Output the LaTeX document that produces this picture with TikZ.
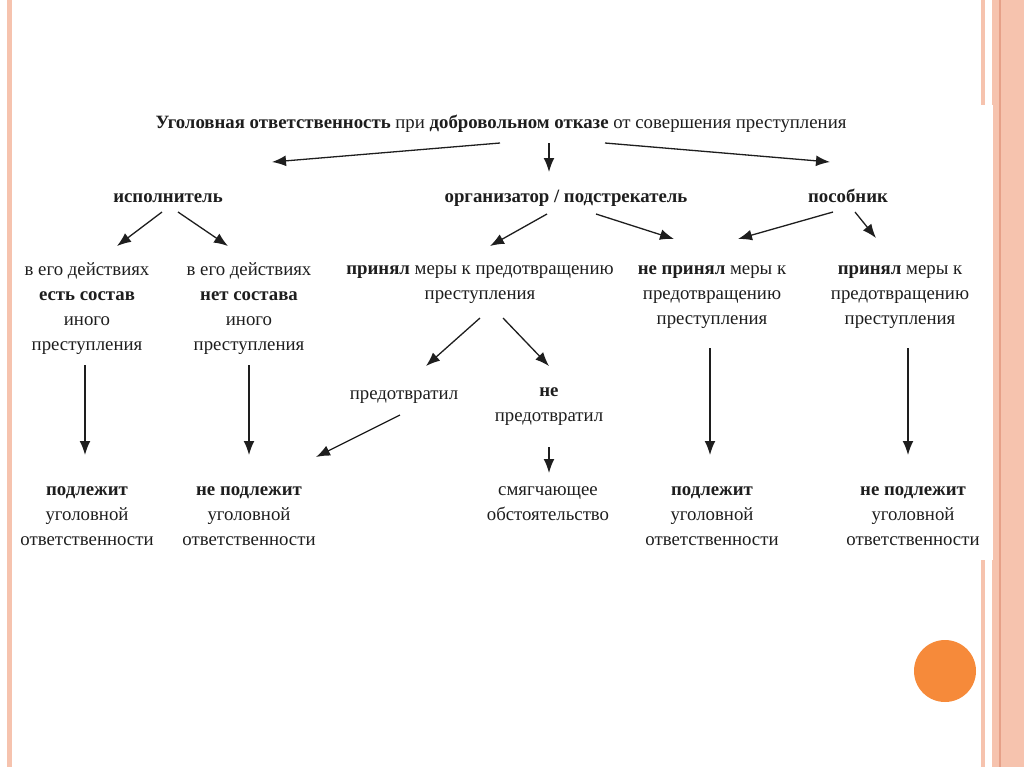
\documentclass[tikz,border=0pt]{standalone}
\usepackage{fontspec}
\setmainfont{Liberation Serif}
\usetikzlibrary{arrows.meta, calc}
\definecolor{slPink}{HTML}{F6C3AE}
\definecolor{slPinkDk}{HTML}{E6A088}
\definecolor{slOrange}{HTML}{F68A3A}
\definecolor{txtGrey}{HTML}{1E1E1E}
\tikzset{
  arr/.style  = {-{Latex[length=7pt,width=5.4pt]}, line width=0.65pt, txtGrey},
  lbl/.style  = {font=\fontsize{9.4}{12.5}\selectfont, text=txtGrey,
                 align=center, inner sep=0pt},
  oneline/.style = {text height=0.7em, text depth=0.22em},
  head/.style = {lbl, oneline, font=\bfseries\fontsize{9.4}{12.5}\selectfont},
}

\begin{document}
\begin{tikzpicture}[x=0.5pt, y=-0.5pt]
\useasboundingbox (0,0) rectangle (1024,767);

% ---- slide frame ----------------------------------------------------------
\fill[white] (0,0) rectangle (1024,767);
\fill[slPink] (7,0) rectangle (12,767);
\fill[slPink] (981,0) rectangle (985,767);
\fill[slPink] (992,0) rectangle (1024,767);
\draw[slPinkDk, line width=0.6pt] (1000,0) -- (1000,767);
\fill[white] (20,105) rectangle (993,560);
\fill[slOrange] (945,671) circle[radius=15.5pt];

% ---- top levels -----------------------------------------------------------
\node[lbl, oneline] (title) at (501,124)
  {\textbf{Уголовная ответственность} при \textbf{добровольном отказе} от совершения преступления};
\node[head] (isp) at (168,198) {исполнитель};
\node[head] (org) at (566,198) {организатор / подстрекатель};
\node[head] (pos) at (848,198) {пособник};

% ---- actions --------------------------------------------------------------
\node[lbl] (a1) at (87,309) {в его действиях\\\textbf{есть состав}\\иного\\преступления};
\node[lbl] (b1) at (249,309) {в его действиях\\\textbf{нет состава}\\иного\\преступления};
\node[lbl] (c1) at (480,284.5) {\textbf{принял} меры к предотвращению\\преступления};
\node[lbl] (d1) at (712,297) {\textbf{не принял} меры к\\предотвращению\\преступления};
\node[lbl] (e1) at (900,297) {\textbf{принял} меры к\\предотвращению\\преступления};
\node[lbl, oneline] (prev) at (404,395) {предотвратил};
\node[lbl] (nprev) at (549,407) {\textbf{не}\\предотвратил};

% ---- outcomes -------------------------------------------------------------
\node[lbl] (smg) at (548,504) {смягчающее\\обстоятельство};
\node[lbl] (a2) at (87,516) {\textbf{подлежит}\\уголовной\\ответственности};
\node[lbl] (b2) at (249,516) {\textbf{не подлежит}\\уголовной\\ответственности};
\node[lbl] (d2) at (712,516) {\textbf{подлежит}\\уголовной\\ответственности};
\node[lbl] (e2) at (913,516) {\textbf{не подлежит}\\уголовной\\ответственности};

% ---- arrows ---------------------------------------------------------------
\draw[arr] ($(title)+(-1,19)$) -- ($(isp)+(104,-36)$);
\draw[arr] ($(title)+(48,19)$) -- ($(org)+(-17,-26)$);
\draw[arr] ($(title)+(104,19)$) -- ($(pos)+(-18,-36)$);
\draw[arr] ($(isp)+(-6,14)$) -- ($(a1)+(30,-63)$);
\draw[arr] ($(isp)+(10,14)$) -- ($(b1)+(-21,-63)$);
\draw[arr] ($(org)+(-19,16)$) -- ($(c1)+(10,-38.5)$);
\draw[arr] ($(org)+(30,16)$) -- ($(d1)+(-38,-58)$);
\draw[arr] ($(pos)+(-15,14)$) -- ($(d1)+(26,-58)$);
\draw[arr] ($(pos)+(7,14)$) -- ($(e1)+(-24,-59)$);
\draw[arr] ($(c1)+(0,33.5)$) -- ($(prev)+(22,-29)$);
\draw[arr] ($(c1)+(23,33.5)$) -- ($(nprev)+(0,-41)$);
\draw[arr] ($(prev)+(-4,20)$) -- ($(b2)+(67,-59)$);
\draw[arr] ($(nprev)+(0,40)$) -- ($(smg)+(1,-31)$);
\draw[arr] ($(a1)+(-2,56)$) -- ($(a2)+(-2,-61)$);
\draw[arr] ($(b1)+(0,56)$) -- ($(b2)+(0,-61)$);
\draw[arr] ($(d1)+(-2,51)$) -- ($(d2)+(-2,-61)$);
\draw[arr] ($(e1)+(8,51)$) -- ($(e2)+(-5,-61)$);

\end{tikzpicture}
\end{document}
